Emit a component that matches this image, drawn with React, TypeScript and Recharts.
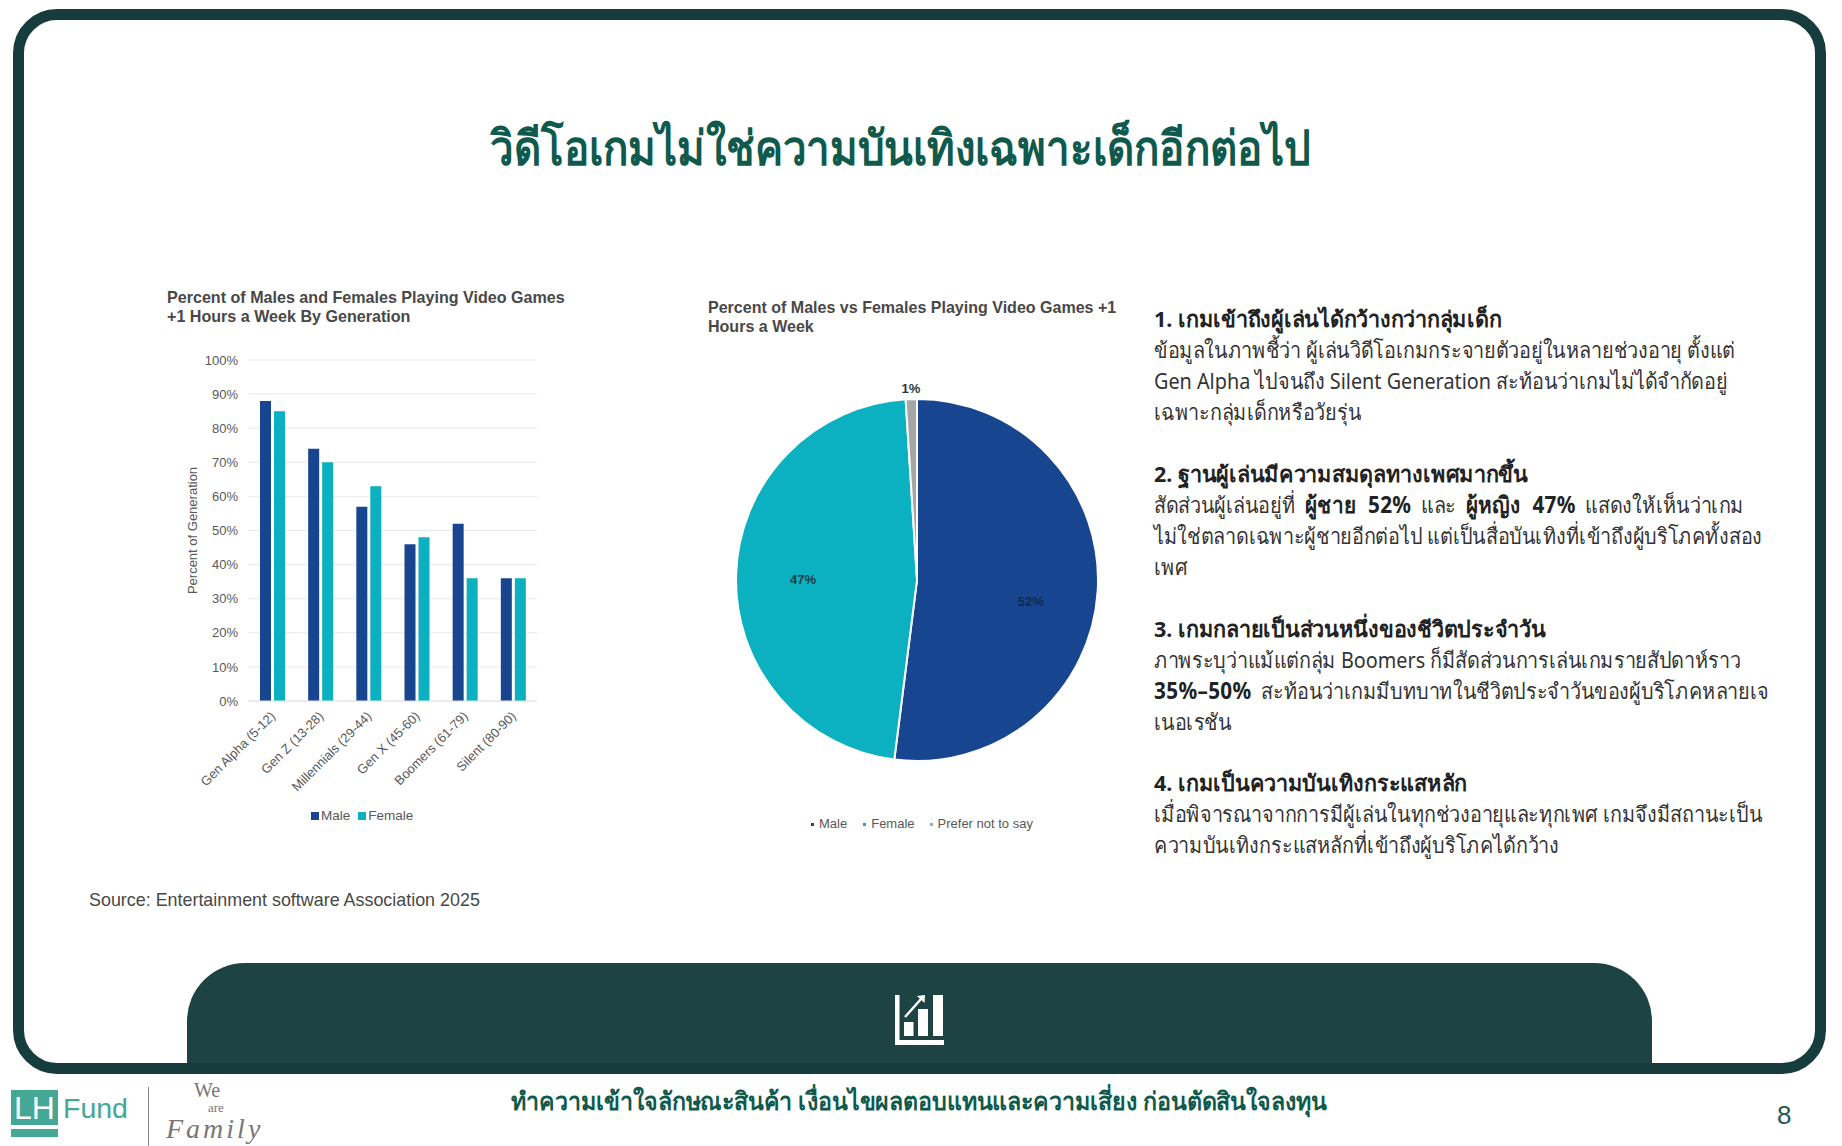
import { BarChart, Bar, XAxis, YAxis, CartesianGrid, Legend, PieChart, Pie, Cell } from "recharts";

const GENERATIONS = ["Gen Alpha (5-12)", "Gen Z (13-28)", "Millennials (29-44)", "Gen X (45-60)", "Boomers (61-79)", "Silent (80-90)"];
const MALE = [88, 74, 57, 46, 52, 36];
const FEMALE = [85, 70, 63, 48, 36, 36];
const Y_TICKS = [0, 10, 20, 30, 40, 50, 60, 70, 80, 90, 100];

const PIE_NAMES = ["Male", "Female", "Prefer not to say"];
const PIE_VALUES = [52, 47, 1];

const NAVY = "#18458f";
const TEAL = "#0bb1c0";
const GREY = "#a5a6a8";
const PIE_COLORS = [NAVY, TEAL, GREY];
const BAR_COLORS = [NAVY, TEAL];
const DARK = "#173c3d";
const TAB = "#1d4442";
const ARIAL = "'Liberation Sans', Arial, sans-serif";
const THAI = "'Noto Sans', 'DejaVu Sans', sans-serif";
const AXIS_TEXT = "#595959";

const barData = GENERATIONS.map((name, i) => ({ name, male: MALE[i], female: FEMALE[i] }));
const pieData = PIE_NAMES.map((name, i) => ({ name, value: PIE_VALUES[i] }));

const SECTIONS = [
  {
    top: 303,
    head: "1. เกมเข้าถึงผู้เล่นได้กว้างกว่ากลุ่มเด็ก",
    lines: [
      ["ข้อมูลในภาพชี้ว่า ผู้เล่นวิดีโอเกมกระจายตัวอยู่ในหลายช่วงอายุ ตั้งแต่"],
      ["Gen Alpha ไปจนถึง Silent Generation สะท้อนว่าเกมไม่ได้จำกัดอยู่"],
      ["เฉพาะกลุ่มเด็กหรือวัยรุ่น"],
    ],
  },
  {
    top: 458,
    head: "2. ฐานผู้เล่นมีความสมดุลทางเพศมากขึ้น",
    lines: [
      ["สัดส่วนผู้เล่นอยู่ที่ ", "ผู้ชาย 52%", " และ ", "ผู้หญิง 47%", " แสดงให้เห็นว่าเกม"],
      ["ไม่ใช่ตลาดเฉพาะผู้ชายอีกต่อไป แต่เป็นสื่อบันเทิงที่เข้าถึงผู้บริโภคทั้งสอง"],
      ["เพศ"],
    ],
  },
  {
    top: 613,
    head: "3. เกมกลายเป็นส่วนหนึ่งของชีวิตประจำวัน",
    lines: [
      ["ภาพระบุว่าแม้แต่กลุ่ม Boomers ก็มีสัดส่วนการเล่นเกมรายสัปดาห์ราว"],
      ["", "35%–50%", " สะท้อนว่าเกมมีบทบาทในชีวิตประจำวันของผู้บริโภคหลายเจ"],
      ["เนอเรชัน"],
    ],
  },
  {
    top: 767,
    head: "4. เกมเป็นความบันเทิงกระแสหลัก",
    lines: [
      ["เมื่อพิจารณาจากการมีผู้เล่นในทุกช่วงอายุและทุกเพศ เกมจึงมีสถานะเป็น"],
      ["ความบันเทิงกระแสหลักที่เข้าถึงผู้บริโภคได้กว้าง"],
    ],
  },
];

function GenTick({ x, y, payload }: any) {
  return (
    <text
      x={x + 4}
      y={y + 8}
      transform={`rotate(-45 ${x + 4} ${y + 8})`}
      textAnchor="end"
      fontFamily={ARIAL}
      fontSize={13}
      fill={AXIS_TEXT}
    >
      {payload.value}
    </text>
  );
}

function PieLabel({ cx, cy, midAngle, outerRadius, index, value }: any) {
  const rad = index === 2 ? outerRadius + 11 : outerRadius * 0.63;
  const nudge = index === 0 ? 14 : index === 1 ? 3 : 0;
  const x = cx + rad * Math.cos((-midAngle * Math.PI) / 180);
  const y = cy + rad * Math.sin((-midAngle * Math.PI) / 180) + nudge;
  return (
    <text x={x} y={y} textAnchor="middle" dominantBaseline="central" fontFamily={ARIAL} fontSize={13} fontWeight={700} fill={index === 0 ? "#0d2b4e" : "#1f3b40"}>
      {value}%
    </text>
  );
}

function BarLegend({ payload }: any) {
  return (
    <div style={{ display: "flex", fontFamily: ARIAL, fontSize: 13.5, color: AXIS_TEXT, lineHeight: "16px" }}>
      {(payload ?? []).map((p: any, i: number) => (
        <span key={p.value} style={{ display: "flex", alignItems: "center", marginRight: 8 }}>
          <span style={{ width: 8, height: 8, background: BAR_COLORS[i], marginRight: 2 }} />
          {p.value}
        </span>
      ))}
    </div>
  );
}

function PieLegend({ payload }: any) {
  const gaps = [16, 15, 0];
  return (
    <div style={{ display: "flex", fontFamily: ARIAL, fontSize: 13, color: AXIS_TEXT, lineHeight: "16px", whiteSpace: "nowrap" }}>
      {(payload ?? []).map((p: any, i: number) => (
        <span key={p.value} style={{ display: "flex", alignItems: "center", marginRight: gaps[i] }}>
          <span style={{ width: 3, height: 3, background: PIE_COLORS[i], marginRight: 5 }} />
          {p.value}
        </span>
      ))}
    </div>
  );
}

function ChartIcon() {
  return (
    <svg width={50} height={50} viewBox="0 0 50 50" style={{ position: "absolute", left: 895, top: 995 }}>
      <rect x={0} y={0} width={4.5} height={50} fill="#fff" />
      <rect x={0} y={45} width={49} height={5} fill="#fff" />
      <rect x={9} y={27} width={9.5} height={14} fill="#fff" />
      <rect x={23} y={14} width={10} height={27} fill="#fff" />
      <rect x={38} y={0} width={10} height={41} fill="#fff" />
      <path d="M10 22L26 4" stroke="#fff" strokeWidth={2.5} fill="none" />
      <path d="M22 1L30 0L29.5 8Z" fill="#fff" />
    </svg>
  );
}

export default function App() {
  return (
    <div style={{ position: "absolute", left: 0, top: 0, width: 1842, height: 1146, background: "#fff", overflow: "hidden" }}>
      {/* frame */}
      <div style={{ position: "absolute", left: 13, top: 9, width: 1813, height: 1065, boxSizing: "border-box", border: `11px solid ${DARK}`, borderRadius: 44 }} />
      <div style={{ position: "absolute", left: 187, top: 963, width: 1465, height: 100, background: TAB, borderTopLeftRadius: 58, borderTopRightRadius: 58 }} />
      <ChartIcon />

      <div style={{ position: "absolute", left: 0, width: 1800, top: 110, textAlign: "center", fontFamily: THAI, fontSize: 48, lineHeight: "74px", fontWeight: 700, color: "#0f5a4c", transform: "scaleX(0.876)" }}>
        วิดีโอเกมไม่ใช่ความบันเทิงเฉพาะเด็กอีกต่อไป
      </div>

      {/* bar chart */}
      <div style={{ position: "absolute", left: 167, top: 288, fontFamily: ARIAL, fontSize: 16.1, lineHeight: "19px", fontWeight: 700, color: "#484848", whiteSpace: "pre" }}>
        {"Percent of Males and Females Playing Video Games\n+1 Hours a Week By Generation"}
      </div>
      <div style={{ position: "absolute", left: 150, top: 339 }}>
        <BarChart width={400} height={500} data={barData} barSize={11} barGap={3} margin={{ top: 21, right: 13, bottom: 0, left: 0 }}>
          <CartesianGrid vertical={false} stroke="#e9e9e9" />
          <XAxis
            dataKey="name"
            height={138}
            interval={0}
            tickLine={false}
            axisLine={{ stroke: "#e4e4e4" }}
            tick={GenTick}
          />
          <YAxis
            width={98}
            domain={[0, 100]}
            ticks={Y_TICKS}
            tickFormatter={(v) => `${v}%`}
            tickLine={false}
            tickMargin={4}
            axisLine={false}
            tick={{ fontFamily: ARIAL, fontSize: 13, fill: AXIS_TEXT }}
            label={{ value: "Percent of Generation", angle: -90, position: "insideLeft", offset: 42, style: { fontFamily: ARIAL, fontSize: 13, fill: AXIS_TEXT, textAnchor: "middle" } }}
          />
          <Legend verticalAlign="middle" content={BarLegend} itemSorter={null} wrapperStyle={{ top: 469, left: 161, width: "auto" }} />
          <Bar dataKey="male" name="Male" fill={NAVY} isAnimationActive={false} />
          <Bar dataKey="female" name="Female" fill={TEAL} isAnimationActive={false} />
        </BarChart>
      </div>

      {/* pie chart */}
      <div style={{ position: "absolute", left: 708, top: 298, fontFamily: ARIAL, fontSize: 16.05, lineHeight: "19px", fontWeight: 700, color: "#484848", whiteSpace: "pre" }}>
        {"Percent of Males vs Females Playing Video Games +1\nHours a Week"}
      </div>
      <div style={{ position: "absolute", left: 700, top: 340 }}>
        <PieChart width={440} height={510}>
          <Pie
            data={pieData}
            dataKey="value"
            nameKey="name"
            cx={212}
            cy={235}
            outerRadius={181}
            startAngle={90}
            endAngle={-270}
            stroke="#fff"
            strokeWidth={2}
            label={PieLabel}
            labelLine={false}
            isAnimationActive={false}
          >
            {pieData.map((d, i) => (
              <Cell key={d.name} fill={PIE_COLORS[i]} />
            ))}
          </Pie>
          <Legend verticalAlign="middle" content={PieLegend} itemSorter={null} wrapperStyle={{ top: 476, left: 111, width: "auto" }} />
        </PieChart>
      </div>

      <div style={{ position: "absolute", left: 89, top: 888, fontFamily: ARIAL, fontSize: 17.9, lineHeight: "24px", color: "#484848" }}>
        Source: Entertainment software Association 2025
      </div>

      {/* right column */}
      {SECTIONS.map((s) => (
        <div key={s.head} style={{ position: "absolute", left: 1154, top: s.top, fontFamily: THAI, fontSize: 22, lineHeight: "31px", color: "#333", whiteSpace: "pre" }}>
          <div style={{ fontWeight: 700, color: "#222", transform: "scaleX(0.98)", transformOrigin: "left" }}>{s.head}</div>
          {s.lines.map((parts, i) => (
            <div key={i} style={{ transform: "scaleX(0.9)", transformOrigin: "left" }}>
              {parts.map((t, j) => (
                <span key={j} style={j % 2 ? { fontWeight: 700, color: "#222", fontSize: 23, wordSpacing: 7, letterSpacing: 0.4 } : { wordSpacing: parts.length > 1 ? 5 : 0 }}>
                  {t}
                </span>
              ))}
            </div>
          ))}
        </div>
      ))}

      {/* footer */}
      <div style={{ position: "absolute", left: 0, width: 1838, top: 1082, textAlign: "center", fontFamily: THAI, fontSize: 25, lineHeight: "36px", fontWeight: 700, color: "#0f5a4c", transform: "scaleX(0.928)" }}>
        ทำความเข้าใจลักษณะสินค้า เงื่อนไขผลตอบแทนและความเสี่ยง ก่อนตัดสินใจลงทุน
      </div>
      <div style={{ position: "absolute", left: 1777, top: 1098, fontFamily: ARIAL, fontSize: 26, lineHeight: "34px", color: "#1f5a52" }}>8</div>

      {/* logo */}
      <div style={{ position: "absolute", left: 11, top: 1090, width: 47, height: 47, background: "#45a796" }}>
        <div style={{ position: "absolute", left: 0, width: 47, top: 2, textAlign: "center", fontFamily: ARIAL, fontSize: 32, lineHeight: "32px", color: "#fff" }}>LH</div>
        <div style={{ position: "absolute", left: 0, top: 35, width: 47, height: 4, background: "#fff" }} />
      </div>
      <div style={{ position: "absolute", left: 63, top: 1089, fontFamily: ARIAL, fontSize: 28.5, lineHeight: "38px", color: "#45a796" }}>Fund</div>
      <div style={{ position: "absolute", left: 148, top: 1087, width: 1, height: 59, background: "#888" }} />
      <div style={{ position: "absolute", left: 194, top: 1080, fontFamily: "'Liberation Serif', serif", fontSize: 20, lineHeight: "20px", color: "#777" }}>We</div>
      <div style={{ position: "absolute", left: 208, top: 1101, fontFamily: "'Liberation Serif', serif", fontSize: 13, lineHeight: "13px", color: "#777" }}>are</div>
      <div style={{ position: "absolute", left: 166, top: 1115, fontFamily: "'Liberation Serif', serif", fontStyle: "italic", fontSize: 28, lineHeight: "28px", letterSpacing: 3, color: "#777" }}>Family</div>
    </div>
  );
}
